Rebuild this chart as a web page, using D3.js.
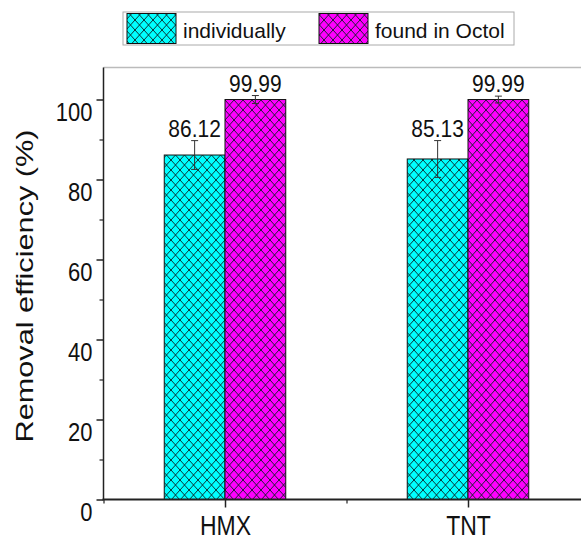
<!DOCTYPE html>
<html>
<head>
<meta charset="utf-8">
<script src="https://cdn.jsdelivr.net/npm/d3@7"></script>
<style>
  body { margin: 0; background: #fff; }
  text { font-family: 'Liberation Sans', Arial, sans-serif; fill: #111; }
</style>
</head>
<body>
<div id="chart"></div>
<script>
const categories = ['HMX', 'TNT']
const seriesNames = ['individually', 'found in Octol']
const individually = [86.12, 85.13]
const individuallyErr = [3.6, 4.6]
const octol = [99.99, 99.99]
const octolErr = [1.0, 0.85]
const yTicks = [0, 20, 40, 60, 80, 100]
const yMinorTicks = [10, 30, 50, 70, 90]

const width = 581
const height = 539

const svg = d3
  .select('#chart')
  .append('svg')
  .attr('width', width)
  .attr('height', height)

// hatch patterns
const defs = svg.append('defs')
const fills = ['#00ffff', '#ff00ff']
const pw = 9
const ph = 10
fills.forEach((c, i) => {
  const p = defs
    .append('pattern')
    .attr('id', 'hatch' + i)
    .attr('patternUnits', 'userSpaceOnUse')
    .attr('width', pw)
    .attr('height', ph)
  p.append('rect').attr('width', pw).attr('height', ph).attr('fill', c)
  p.append('path')
    .attr('d', 'M0,0L' + pw + ',' + ph + 'M' + pw + ',0L0,' + ph)
    .attr('stroke', '#0a2020')
    .attr('stroke-width', 0.9)
})

const xPositionScale = d3.scaleLinear().domain([0.5, 2.5]).range([103.5, 589.5])
const yPositionScale = d3.scaleLinear().domain([0, 100]).range([499.5, 99.5])
const barW = 0.25

// frame top line
svg
  .append('line')
  .attr('x1', xPositionScale(0.5))
  .attr('x2', width)
  .attr('y1', yPositionScale(108))
  .attr('y2', yPositionScale(108))
  .attr('stroke', '#bbbbbb')
  .attr('stroke-width', 1.5)

// bars
const rows = categories.map((c, i) => ({
  cat: i + 1,
  vals: [
    { v: individually[i], e: individuallyErr[i], s: 0 },
    { v: octol[i], e: octolErr[i], s: 1 }
  ]
}))

rows.forEach(row => {
  row.vals.forEach(d => {
    const x0 = row.cat - barW + d.s * barW
    const xc = x0 + barW / 2
    svg
      .append('rect')
      .attr('x', xPositionScale(x0))
      .attr('width', xPositionScale(x0 + barW) - xPositionScale(x0))
      .attr('y', yPositionScale(d.v))
      .attr('height', yPositionScale(0) - yPositionScale(d.v))
      .attr('fill', 'url(#hatch' + d.s + ')')
      .attr('stroke', '#111')
      .attr('stroke-width', 1)

    // error bar
    const ex = xPositionScale(xc)
    const eg = svg.append('g').attr('stroke', '#333').attr('stroke-width', 1)
    eg.append('line')
      .attr('x1', ex).attr('x2', ex)
      .attr('y1', yPositionScale(d.v + d.e))
      .attr('y2', yPositionScale(d.v - d.e))
    ;[d.v + d.e, d.v - d.e].forEach(v => {
      eg.append('line')
        .attr('x1', ex - 3.5).attr('x2', ex + 3.5)
        .attr('y1', yPositionScale(v)).attr('y2', yPositionScale(v))
    })

    svg
      .append('text')
      .attr('transform', 'translate(' + ex + ',' + (yPositionScale(d.v + d.e) - 4) + ') scale(1,1.12)')
      .attr('text-anchor', 'middle')
      .attr('font-size', 21)
      .text(d.v.toFixed(2))
  })
})

// y axis
const yAxis = d3.axisLeft(yPositionScale).tickValues(yTicks).tickSize(7).tickSizeOuter(0)
const yg = svg
  .append('g')
  .attr('transform', 'translate(' + xPositionScale(0.5) + ',0)')
  .call(yAxis)
yg.select('.domain').remove()
yg.selectAll('.tick line').attr('stroke', '#222').attr('stroke-width', 1.5)
yg.selectAll('.tick text')
  .attr('x', 0)
  .attr('dy', null)
  .attr('transform', 'translate(-11,21) scale(1,1.2)')
  .attr('font-size', 22)
  .attr('font-family', "'Liberation Sans', Arial, sans-serif")
  .attr('fill', '#111')

const yMinor = d3.axisLeft(yPositionScale).tickValues(yMinorTicks).tickSize(4).tickFormat('')
const ym = svg
  .append('g')
  .attr('transform', 'translate(' + xPositionScale(0.5) + ',0)')
  .call(yMinor)
ym.select('.domain').remove()
ym.selectAll('.tick line').attr('stroke', '#222').attr('stroke-width', 1.2)

svg
  .append('line')
  .attr('x1', xPositionScale(0.5))
  .attr('x2', xPositionScale(0.5))
  .attr('y1', yPositionScale(108))
  .attr('y2', yPositionScale(0))
  .attr('stroke', '#222')
  .attr('stroke-width', 1.5)

// x axis
const xAxis = d3
  .axisBottom(xPositionScale)
  .tickValues([1, 2])
  .tickSize(8)
  .tickFormat(d => categories[d - 1])
const xg = svg
  .append('g')
  .attr('transform', 'translate(0,' + yPositionScale(0) + ')')
  .call(xAxis)
xg.select('.domain').remove()
xg.selectAll('.tick line').attr('stroke', '#222').attr('stroke-width', 1.5)
xg.selectAll('.tick text')
  .attr('y', 0)
  .attr('dy', null)
  .attr('transform', 'translate(0,35) scale(1,1.2)')
  .attr('font-size', 23)
  .attr('font-family', "'Liberation Sans', Arial, sans-serif")
  .attr('fill', '#111')

const xMinor = d3.axisBottom(xPositionScale).tickValues([0.5, 1.5]).tickSize(4).tickFormat('')
const xm = svg
  .append('g')
  .attr('transform', 'translate(0,' + yPositionScale(0) + ')')
  .call(xMinor)
xm.select('.domain').remove()
xm.selectAll('.tick line').attr('stroke', '#222').attr('stroke-width', 1.2)

svg
  .append('line')
  .attr('x1', xPositionScale(0.5) - 1)
  .attr('x2', width)
  .attr('y1', yPositionScale(0))
  .attr('y2', yPositionScale(0))
  .attr('stroke', '#222')
  .attr('stroke-width', 1.8)

// y title
svg
  .append('text')
  .attr('transform', 'translate(33,' + 286 + ') rotate(-90)')
  .attr('text-anchor', 'middle')
  .attr('font-size', 24)
  .attr('textLength', 313)
  .attr('lengthAdjust', 'spacingAndGlyphs')
  .text('Removal efficiency (%)')

// legend
const legend = svg.append('g')
legend
  .append('rect')
  .attr('x', 123)
  .attr('y', 12)
  .attr('width', 391)
  .attr('height', 33)
  .attr('fill', '#fff')
  .attr('stroke', '#aaaaaa')
  .attr('stroke-width', 1)

const legendX = [127, 319]
seriesNames.forEach((name, i) => {
  legend
    .append('rect')
    .attr('x', legendX[i])
    .attr('y', 13.5)
    .attr('width', 49)
    .attr('height', 30)
    .attr('fill', 'url(#hatch' + i + ')')
    .attr('stroke', '#111')
    .attr('stroke-width', 1)
  legend
    .append('text')
    .attr('x', legendX[i] + 56)
    .attr('y', 37.5)
    .attr('font-size', 21)
    .text(name)
})
</script>
</body>
</html>
